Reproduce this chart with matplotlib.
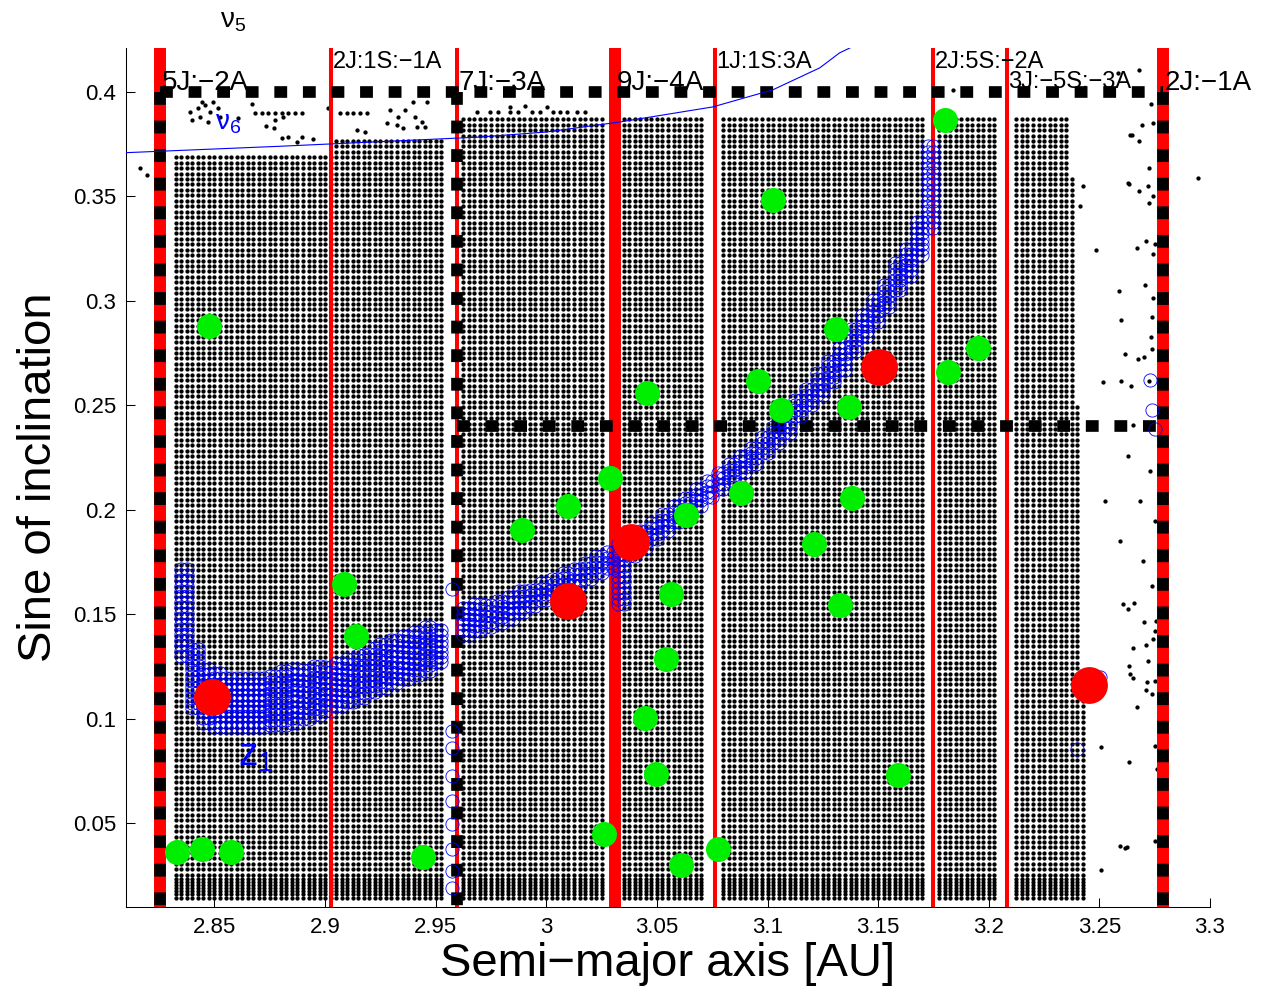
import numpy as np
import matplotlib
matplotlib.use("Agg")
import matplotlib.pyplot as plt

plt.rcParams['font.family'] = ['Liberation Sans', 'DejaVu Sans']
plt.rcParams['mathtext.fontset'] = 'custom'
plt.rcParams['mathtext.rm'] = 'Liberation Sans'
plt.rcParams['mathtext.it'] = 'Liberation Sans'
plt.rcParams['mathtext.default'] = 'regular'

# --- test particle grid (initial conditions), regular in a and sin(i)
grid_da = 0.0025
grid_ds = 0.0026
grid_a0, grid_a1 = 2.8325, 3.2425
row_s0 = 0.0255
bottom_rows = [0.0145, 0.016, 0.0175, 0.019, 0.0205, 0.022, 0.0235]
# blocks of surviving particles: a range and top of block
blk_a0 = [2.8325, 2.905, 2.9625, 3.0345, 3.0785, 3.1775, 3.2105, 3.2375, 3.24, 3.2425]
blk_a1 = [2.9025, 2.9545, 3.0265, 3.0705, 3.1705, 3.2045, 3.235, 3.2375, 3.24, 3.2425]
blk_top = [0.371, 0.377, 0.3875, 0.388, 0.388, 0.388, 0.388, 0.36, 0.25, 0.12]

# scattered particles outside the regular blocks
extra_a = [2.8163, 2.8195,
           2.8443, 2.8493, 2.8457, 2.8389, 2.8425, 2.848, 2.8516, 2.8669, 2.8525,
           2.8398, 2.8434, 2.8471, 2.8606, 2.8683, 2.8715, 2.8742, 2.8773, 2.8805,
           2.8832, 2.8864, 2.8895, 2.8773, 2.8809, 2.8733, 2.8769, 2.8805, 2.8832,
           2.8895, 2.8945, 2.8873, 2.9013, 2.9397, 2.946, 2.9067, 2.9099, 2.9126,
           2.9157, 2.9189, 2.9293, 2.9329, 2.9361, 2.9406, 2.9438, 2.9144, 2.918,
           2.9279, 2.9325, 2.9352, 2.9415, 2.9451,
           2.9686, 2.9745, 2.9781, 2.9835, 2.9871, 2.9935, 2.9971, 3.0029, 3.0061,
           3.0093, 3.0138, 3.0174, 2.9835, 2.9903, 3.0002,
           3.1837,
           3.2732, 3.2691, 3.2741, 3.2637, 3.2677, 3.2723, 3.2632, 3.2677, 3.2718,
           3.2741, 3.2723, 3.2424, 3.2411, 3.2483, 3.2709, 3.2668, 3.2741, 3.275,
           3.2587, 3.2705, 3.2741, 3.2596, 3.2736, 3.2732, 3.2614, 3.2673, 3.27,
           3.2736, 3.2515, 3.2596, 3.2641, 3.2723, 3.2628, 3.2727, 3.2682, 3.275,
           3.2592, 3.2696, 3.2736, 3.2524, 3.265,
           3.2605, 3.2628, 3.2655, 3.27, 3.2754, 3.275, 3.2709, 3.265, 3.2741,
           3.2718, 3.2632, 3.2637, 3.265, 3.2714, 3.275, 3.2709, 3.2736, 3.2668,
           3.2506, 3.2632, 3.275, 3.2759, 3.2592, 3.2614, 3.2623, 3.275, 3.2506,
           3.2583, 3.2677, 3.2646, 3.2944, 3.2628]
extra_s = [0.3636, 0.3602,
           0.3952, 0.3952, 0.3938, 0.3904, 0.3923, 0.3904, 0.3923, 0.3942, 0.388,
           0.3866, 0.388, 0.3856, 0.3875, 0.3899, 0.3899, 0.3899, 0.3899, 0.3899,
           0.3899, 0.3899, 0.3899, 0.3866, 0.388, 0.3837, 0.3827, 0.3779, 0.3784,
           0.3784, 0.3775, 0.376, 0.3923, 0.3952, 0.3952, 0.3899, 0.3899, 0.3899,
           0.3899, 0.3899, 0.3914, 0.388, 0.3914, 0.388, 0.3856, 0.3818, 0.3808,
           0.3851, 0.3842, 0.3827, 0.3832, 0.3832,
           0.3904, 0.3904, 0.3904, 0.3904, 0.3904, 0.3904, 0.3904, 0.3904, 0.3904,
           0.3904, 0.3904, 0.3904, 0.3928, 0.3932, 0.3928,
           0.401,
           0.3942, 0.3842, 0.3851, 0.3794, 0.3765, 0.3636, 0.3559, 0.3525, 0.3549,
           0.3501, 0.3468, 0.3549, 0.3453, 0.3243, 0.3286, 0.3252, 0.3223, 0.3271,
           0.3046, 0.3075, 0.3012, 0.2907, 0.2921, 0.2825, 0.2744, 0.272, 0.273,
           0.2768, 0.261, 0.2619, 0.2595, 0.2619, 0.226, 0.2188, 0.2044, 0.1948,
           0.1852, 0.1756, 0.1637, 0.2044, 0.2404,
           0.155, 0.1526, 0.1555, 0.1464, 0.1469, 0.1421, 0.1354, 0.1339, 0.1383,
           0.1277, 0.1253, 0.1215, 0.1196, 0.1176, 0.1181, 0.1138, 0.1119, 0.1057,
           0.0865, 0.0793, 0.087, 0.0759, 0.039, 0.0381, 0.0385, 0.0414, 0.0275,
           0.4091, 0.4105, 0.3794, 0.3588, 0.3564]

# --- z1 secular resonance: band of resonant particles (column, lower, upper sin i)
band_a = [2.835, 2.84, 2.845, 2.85, 2.855, 2.86, 2.865, 2.87, 2.875, 2.88,
          2.885, 2.89, 2.895, 2.9, 2.905, 2.91, 2.915, 2.92, 2.925, 2.93,
          2.935, 2.94, 2.945, 2.95,
          2.9625, 2.9675, 2.9725, 2.9775, 2.9825, 2.9875, 2.9925, 2.9975, 3.0025,
          3.0075, 3.0125, 3.0175, 3.0225, 3.0275, 3.0325, 3.0375, 3.0425, 3.0475,
          3.0525, 3.0575, 3.0625, 3.0675, 3.0725, 3.0775, 3.0825, 3.0875, 3.0925,
          3.0975, 3.1025, 3.1075, 3.1125, 3.1175, 3.1225, 3.1275, 3.1325, 3.1375,
          3.1425, 3.1475, 3.1525, 3.1575, 3.1625, 3.1675, 3.1725]
band_lo = [0.13, 0.105, 0.098, 0.096, 0.096, 0.096, 0.096, 0.096, 0.097, 0.097,
           0.098, 0.1, 0.102, 0.104, 0.106, 0.108, 0.11, 0.113, 0.115, 0.117,
           0.119, 0.121, 0.123, 0.127,
           0.14, 0.142, 0.144, 0.146, 0.148, 0.151, 0.154, 0.157, 0.159,
           0.162, 0.164, 0.167, 0.17, 0.172, 0.155, 0.178, 0.182, 0.186,
           0.19, 0.194, 0.198, 0.202, 0.206, 0.21, 0.214, 0.218, 0.222,
           0.227, 0.232, 0.237, 0.245, 0.25, 0.255, 0.261, 0.267, 0.276,
           0.283, 0.29, 0.297, 0.305, 0.312, 0.322, 0.335]
band_hi = [0.172, 0.135, 0.125, 0.122, 0.121, 0.121, 0.121, 0.121, 0.122, 0.123,
           0.124, 0.125, 0.126, 0.127, 0.128, 0.129, 0.131, 0.134, 0.136, 0.138,
           0.14, 0.142, 0.144, 0.145,
           0.153, 0.155, 0.156, 0.158, 0.16, 0.162, 0.164, 0.166, 0.168,
           0.171, 0.173, 0.176, 0.179, 0.182, 0.185, 0.188, 0.191, 0.195,
           0.199, 0.203, 0.207, 0.211, 0.215, 0.219, 0.224, 0.228, 0.232,
           0.237, 0.242, 0.247, 0.255, 0.26, 0.266, 0.272, 0.278, 0.287,
           0.294, 0.301, 0.309, 0.318, 0.327, 0.34, 0.375]
# isolated resonant particles
z1_extra_a = [2.9573, 2.9573, 2.9573, 2.9573, 2.9573, 2.9573, 2.9573, 2.9573, 2.9573,
              3.2727, 3.2736, 3.275, 3.2397, 3.2501]
z1_extra_s = [0.1622, 0.0942, 0.086, 0.0726, 0.0606, 0.0496, 0.0376, 0.027, 0.0189,
              0.262, 0.2476, 0.2389, 0.0855, 0.12]

# --- asteroid family members
green_a = [2.8475, 2.833, 2.8443, 2.8574, 2.9085, 2.9139, 2.9442, 2.989, 3.0097,
           3.0287, 3.026, 3.0454, 3.0563, 3.054, 3.0445, 3.0495, 3.0608, 3.0631,
           3.0775, 3.0879, 3.0956, 3.1024, 3.106, 3.1308, 3.1209, 3.1326, 3.1367,
           3.1381, 3.1588, 3.1801, 3.1814, 3.195]
green_s = [0.2878, 0.0362, 0.0376, 0.0362, 0.1646, 0.1397, 0.0337, 0.1905, 0.202,
           0.2154, 0.0448, 0.2557, 0.1598, 0.1287, 0.1004, 0.0735, 0.0299, 0.1977,
           0.0376, 0.2082, 0.2615, 0.3482, 0.2476, 0.2864, 0.1838, 0.1546, 0.249,
           0.2058, 0.0731, 0.3866, 0.2658, 0.2773]
red_a = [2.8489, 3.0097, 3.0382, 3.1503, 3.2452]
red_s = [0.1104, 0.1565, 0.1848, 0.2682, 0.1162]

# --- nu6 secular resonance
nu6_a = [2.805, 2.88, 2.9519, 2.97, 3.0, 3.0332, 3.0752, 3.1024, 3.1236, 3.1326, 3.1372, 3.14]
nu6_s = [0.3707, 0.374, 0.3775, 0.3784, 0.3808, 0.3856, 0.3928, 0.401, 0.4115, 0.4187, 0.421, 0.4235]

# --- mean-motion resonances
res_a = [2.8254, 2.9026, 2.9596, 3.031, 3.0762, 3.1747, 3.2081, 3.2786]
res_lab = ['5J:\u22122A', '2J:1S:\u22121A', '7J:\u22123A', '9J:\u22124A',
           '1J:1S:3A', '2J:5S:\u22122A', '3J:\u22125S:\u22123A', '2J:\u22121A']
res_lab_s = [0.401, 0.4115, 0.401, 0.401, 0.4115, 0.4115, 0.402, 0.401]
res_thick = [True, False, False, True, False, False, False, True]
res_fs = [20, 17, 20, 20, 17, 17, 17, 20]

fig = plt.figure(figsize=(12.62, 9.9), dpi=100)
ax = fig.add_axes([126 / 1262, 83 / 990, 1084 / 1262, 859 / 990])

# particle grid
cols = np.arange(grid_a0, grid_a1 + 1e-9, grid_da)
rows = np.concatenate([bottom_rows, np.arange(row_s0, 0.3885, grid_ds)])
A, S = np.meshgrid(cols, rows)
keep = np.zeros(A.shape, bool)
for a0, a1, top in zip(blk_a0, blk_a1, blk_top):
    keep |= (A >= a0 - 1e-6) & (A <= a1 + 1e-6) & (S <= top)
ax.scatter(A[keep], S[keep], s=9.5, c='k', linewidths=0, zorder=1)
ax.scatter(extra_a, extra_s, s=9.5, c='k', linewidths=0, zorder=1)

# resonance lines
for a, thick in zip(res_a, res_thick):
    ax.axvline(a, color='#ff0000', lw=8.6 if thick else 2.9, zorder=2)

dash = dict(color='k', lw=8.4, dashes=(1.1, 1.35), dash_capstyle='butt', zorder=3)
ax.plot([res_a[0], res_a[-1]], [0.4, 0.4], **dash)
ax.plot([res_a[2], res_a[-1]], [0.24, 0.24], **dash)
for a in (res_a[0], res_a[2], res_a[-1]):
    ax.plot([a, a], [0.4, 0.01], **dash)

# z1 band
za, zs = [], []
for a, lo, hi in zip(band_a, band_lo, band_hi):
    for s in np.arange(lo, hi + 1e-9, grid_ds):
        za += [a, a + grid_da]
        zs += [s, s]
za += z1_extra_a
zs += z1_extra_s
ax.plot(za, zs, 'o', ms=9.5, mfc='none', mec='#0000ff', mew=0.6, zorder=4)

ax.plot(nu6_a, nu6_s, color='#0000ff', lw=0.8, zorder=6)

ax.plot(green_a, green_s, 'o', ms=18, color='#00ee00', mec='none', zorder=5)
ax.plot(red_a, red_s, 'o', ms=26.5, color='#ff0000', mec='none', zorder=5)

for a, lab, s, fs in zip(res_a, res_lab, res_lab_s, res_fs):
    ax.text(a + 0.0008, s, lab, fontsize=fs, ha='left', va='baseline', zorder=7)

ax.text(2.8525, 0.4307, r'$\nu_5$', fontsize=20, ha='left', va='baseline')
ax.text(2.8502, 0.3818, r'$\nu_6$', fontsize=20, color='#0000ff', ha='left', va='baseline', zorder=7)
ax.text(2.8606, 0.0774, r'$z_1$', fontsize=28, color='#0000ff', ha='left', va='baseline', zorder=7)

ax.set_xlim(2.81, 3.3)
ax.set_ylim(0.01, 0.421)
ax.set_xticks([2.85, 2.9, 2.95, 3.0, 3.05, 3.1, 3.15, 3.2, 3.25, 3.3])
ax.set_xticklabels(['2.85', '2.9', '2.95', '3', '3.05', '3.1', '3.15', '3.2', '3.25', '3.3'])
ax.set_yticks([0.05, 0.1, 0.15, 0.2, 0.25, 0.3, 0.35, 0.4])
ax.set_yticklabels(['0.05', '0.1', '0.15', '0.2', '0.25', '0.3', '0.35', '0.4'])
ax.tick_params(direction='in', length=6.5, width=0.75, labelsize=16, pad=7)
for side in ('top', 'right'):
    ax.spines[side].set_visible(False)
for side in ('left', 'bottom'):
    ax.spines[side].set_linewidth(0.75)

ax.set_xlabel('Semi\u2212major axis [AU]', fontsize=34)
ax.set_ylabel('Sine of inclination', fontsize=34)
ax.xaxis.set_label_coords(0.5, -0.041)
ax.yaxis.set_label_coords(-0.06, 0.5)

fig.savefig('out.png', dpi=100)
